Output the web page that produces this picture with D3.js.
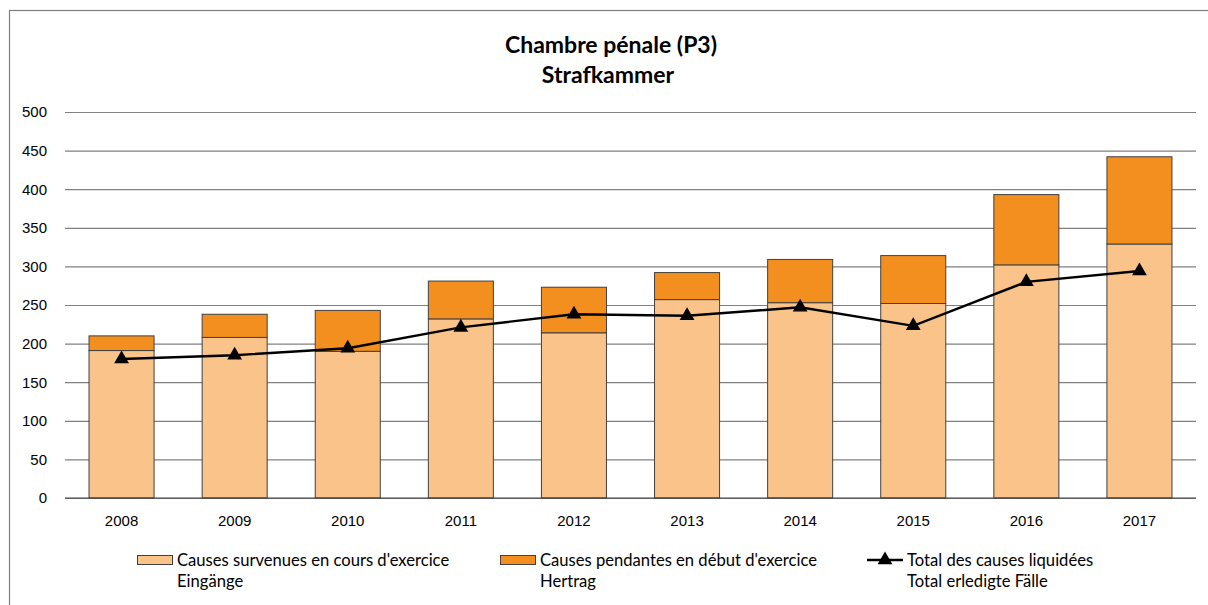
<!DOCTYPE html>
<html>
<head>
<meta charset="utf-8">
<script src="https://cdn.jsdelivr.net/npm/d3@7"></script>
<style>
  html,body{margin:0;padding:0;background:#fff;}
  svg{display:block;font-family:Lato,"Open Sans",sans-serif;}
  .tick text{font-size:15px;fill:#000;}
  .lg{font-size:16.6px;fill:#000;}
</style>
</head>
<body>
<svg id="chart" width="1208" height="605"></svg>
<script>
'use strict';
// values
const years=['2008','2009','2010','2011','2012','2013','2014','2015','2016','2017'];
const eingaenge=[191,208,190,232,214,257,253,252,302,329];   // Causes survenues (lower)
const hertrag=[19,30,53,49,59,35,56,62,91,113];              // Causes pendantes (upper)
const erledigt=[180,185,194,221,238,236,247,223,280,294];    // Total des causes liquidées
const yTicks=[0,50,100,150,200,250,300,350,400,450,500];

const svg=d3.select('#chart');
const m={left:65,right:1196,top:112,bottom:498};

// outer frame
svg.append('rect').attr('x',9.5).attr('y',10.5).attr('width',1210).attr('height',610)
  .attr('fill','none').attr('stroke','#7f7f7f').attr('stroke-width',1.2);

// title
svg.append('text').attr('x',611).attr('y',53).attr('text-anchor','middle')
  .style('font-size','23px').style('font-weight','bold').text('Chambre pénale (P3)');
svg.append('text').attr('x',608).attr('y',83).attr('text-anchor','middle')
  .style('font-size','23px').style('font-weight','bold').text('Strafkammer');

const x=d3.scaleBand().domain(years).range([m.left,m.right]).paddingInner(0.425).paddingOuter(0.2125);
const y=d3.scaleLinear().domain([0,500]).range([m.bottom,m.top]);

// gridlines + y labels
const ya=svg.append('g').attr('transform',`translate(${m.left},0)`)
  .call(d3.axisLeft(y).tickValues(yTicks).tickSize(-(m.right-m.left)).tickPadding(18));
ya.select('.domain').remove();
ya.selectAll('.tick line').attr('stroke','#808080').attr('stroke-width',1.2);

// stacked bars
const g=svg.append('g');
years.forEach((yr,i)=>{
  g.append('rect').attr('x',x(yr)).attr('width',x.bandwidth())
    .attr('y',y(eingaenge[i])).attr('height',y(0)-y(eingaenge[i]))
    .attr('fill','#FAC38A').attr('stroke','#404040').attr('stroke-width',1);
  g.append('rect').attr('x',x(yr)).attr('width',x.bandwidth())
    .attr('y',y(eingaenge[i]+hertrag[i])).attr('height',y(eingaenge[i])-y(eingaenge[i]+hertrag[i]))
    .attr('fill','#F38F1F').attr('stroke','#404040').attr('stroke-width',1);
});

// zero axis line
svg.append('line').attr('x1',m.left).attr('x2',m.right).attr('y1',y(0)).attr('y2',y(0))
  .attr('stroke','#404040').attr('stroke-width',1.2);

// x labels
const xa=svg.append('g').attr('transform',`translate(0,${m.bottom})`)
  .call(d3.axisBottom(x).tickSize(0).tickPadding(17));
xa.select('.domain').remove();

// line with triangle markers
const line=d3.line().x((d,i)=>x(years[i])+x.bandwidth()/2).y(d=>y(d));
svg.append('path').datum(erledigt).attr('d',line).attr('fill','none')
  .attr('stroke','#000').attr('stroke-width',2.4);
const tri=d3.symbol().type(d3.symbolTriangle).size(95);
svg.selectAll('.mk').data(erledigt).join('path').attr('class','mk')
  .attr('transform',(d,i)=>`translate(${x(years[i])+x.bandwidth()/2},${y(d)})`)
  .attr('d',tri).attr('fill','#000');

// legend
const lg=svg.append('g');
const items=[
  {x:137,type:'box',fill:'#FAC38A',l1:"Causes survenues en cours d'exercice",l2:'Eingänge'},
  {x:500,type:'box',fill:'#F38F1F',l1:"Causes pendantes en début d'exercice",l2:'Hertrag'},
  {x:867,type:'line',l1:'Total des causes liquidées',l2:'Total erledigte Fälle'}
];
items.forEach(it=>{
  if(it.type==='box'){
    lg.append('rect').attr('x',it.x+0.5).attr('y',555.5).attr('width',35).attr('height',9)
      .attr('fill',it.fill).attr('stroke','#404040').attr('stroke-width',1);
  }else{
    lg.append('line').attr('x1',it.x).attr('x2',it.x+36).attr('y1',560).attr('y2',560)
      .attr('stroke','#000').attr('stroke-width',2.4);
    lg.append('path').attr('transform',`translate(${it.x+18},560)`).attr('d',tri).attr('fill','#000');
  }
  lg.append('text').attr('class','lg').attr('x',it.x+40).attr('y',566).text(it.l1);
  lg.append('text').attr('class','lg').attr('x',it.x+40).attr('y',587).text(it.l2);
});
</script>
</body>
</html>
